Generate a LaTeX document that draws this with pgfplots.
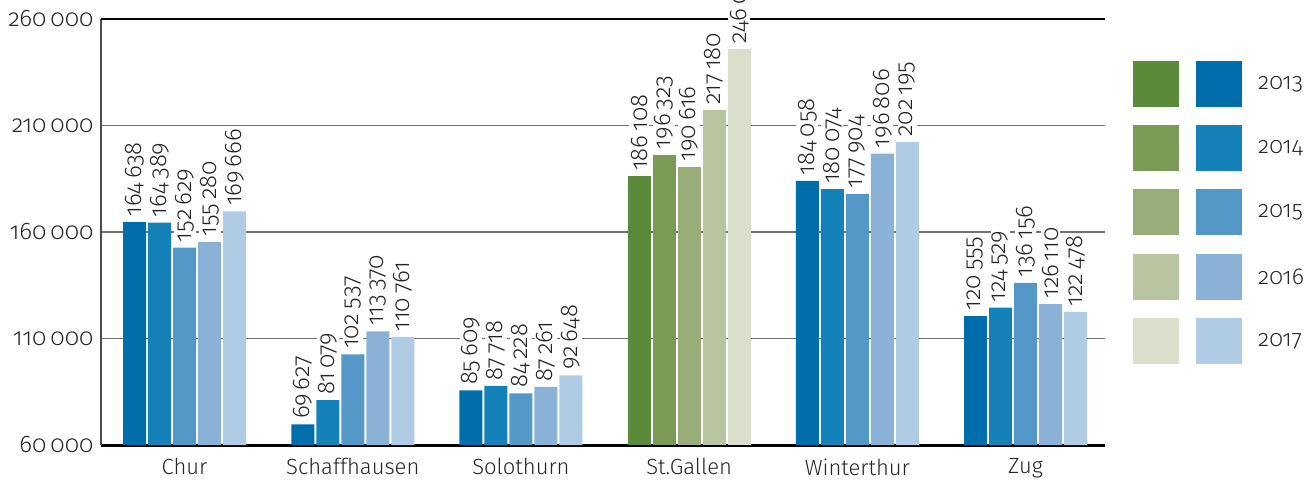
\documentclass[border=0pt]{standalone}
\usepackage{pgfplots}
\pgfplotsset{compat=1.18}
\usepackage{fontspec}
\setmainfont{Fira Sans Light}[Numbers=OldStyle]
\definecolor{b1}{HTML}{006EAB}
\definecolor{b2}{HTML}{1482B8}
\definecolor{b3}{HTML}{5398C6}
\definecolor{b4}{HTML}{89B2D6}
\definecolor{b5}{HTML}{B0CBE4}
\definecolor{g1}{HTML}{5B8A3A}
\definecolor{g2}{HTML}{7A9A55}
\definecolor{g3}{HTML}{98AD78}
\definecolor{g4}{HTML}{B9C5A0}
\definecolor{g5}{HTML}{D9DFCB}
\definecolor{txt}{HTML}{262626}
\begin{document}
\begin{tikzpicture}
\path[use as bounding box] (-101pt,-35pt) rectangle (1209pt,445pt);
\begin{axis}[
  at={(0,0)}, anchor=south west,
  scale only axis, width=1004pt, height=426pt,
  xmin=-0.497, xmax=5.473, ymin=60000, ymax=260000,
  clip=false,
  ybar, bar width=23pt,
  axis lines*=left,
  x axis line style={black, line width=3pt},
  y axis line style={black!70, line width=1.5pt},
  xtick={0,...,5},
  xticklabels={Chur,Schaffhausen,Solothurn,St.Gallen,Winterthur,Zug},
  ytick={60000,110000,160000,210000},
  extra y ticks={260000},
  extra y tick style={grid style={black, line width=2.5pt}},
  ymajorgrids, grid style={black!55, line width=1.3pt},
  major tick length=0pt,
  scaled y ticks=false,
  /pgf/number format/fixed,
  /pgf/number format/precision=0,
  /pgf/number format/1000 sep={\,},
  /pgf/number format/assume math mode=true,
  yticklabel style={font=\fontsize{24}{24}\selectfont, text=txt, xshift=-4pt},
  xticklabel style={font=\fontsize{22}{22}\selectfont, text=txt, yshift=-10pt},
  nodes near coords,
  every node near coord/.append style={rotate=90, anchor=west, fill=white,
    inner sep=1.5pt, outer sep=4pt, font=\fontsize{24}{24}\selectfont, text=txt},
]
\addplot[fill=b1, draw=none, bar shift=-50pt] coordinates {(0,164638) (1,69627) (2,85609) (4,184058) (5,120555)};
\addplot[fill=b2, draw=none, bar shift=-25pt] coordinates {(0,164389) (1,81079) (2,87718) (4,180074) (5,124529)};
\addplot[fill=b3, draw=none, bar shift=0pt] coordinates {(0,152629) (1,102537) (2,84228) (4,177904) (5,136156)};
\addplot[fill=b4, draw=none, bar shift=25pt] coordinates {(0,155280) (1,113370) (2,87261) (4,196806) (5,126110)};
\addplot[fill=b5, draw=none, bar shift=50pt] coordinates {(0,169666) (1,110761) (2,92648) (4,202195) (5,122478)};
\addplot[fill=g1, draw=none, bar shift=-50pt] coordinates {(3,186108)};
\addplot[fill=g2, draw=none, bar shift=-25pt] coordinates {(3,196323)};
\addplot[fill=g3, draw=none, bar shift=0pt] coordinates {(3,190616)};
\addplot[fill=g4, draw=none, bar shift=25pt] coordinates {(3,217180)};
\addplot[fill=g5, draw=none, bar shift=50pt] coordinates {(3,246000)};
\end{axis}
\foreach \g/\b/\yr [count=\i from 0] in {g1/b1/2013, g2/b2/2014, g3/b3/2015, g4/b4/2016, g5/b5/2017} {
  \fill[\g] (1032pt, {384pt-\i*64.2pt}) rectangle ++(46pt,-46pt);
  \fill[\b] (1095pt, {384pt-\i*64.2pt}) rectangle ++(46pt,-46pt);
  \node[anchor=west, inner sep=0pt, text=txt, font=\fontsize{23}{23}\selectfont] at (1157pt, {361pt-\i*64.2pt}) {\yr};
}
\end{tikzpicture}
\end{document}
